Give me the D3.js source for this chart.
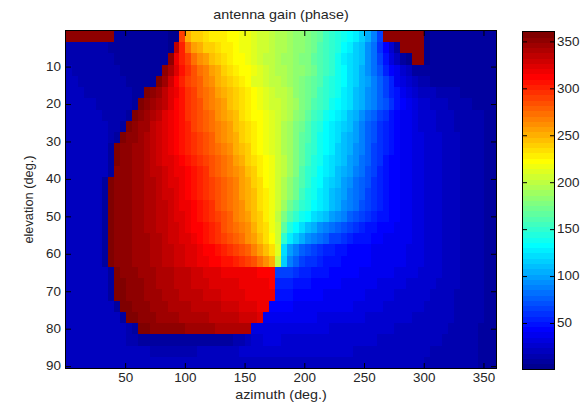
<!DOCTYPE html>
<html><head><meta charset="utf-8">
<script src="https://cdn.jsdelivr.net/npm/d3@7"></script>
<style>
body{margin:0;background:#fff}
text{font-family:"Liberation Sans",Arial,Helvetica,sans-serif;fill:#262626}
</style>
</head><body>
<svg id="chart" width="584" height="404"></svg>
<script>
// ---- data (cell centres, degrees) ----
const azimuthCenters = [3,8,13,18,23,28,33,38,43,48,53,58,63,68,73,78,83,88,93,98,103,108,113,118,123,128,133,138,143,148,153,158,163,168,173,178,183,188,193,198,203,208,213,218,223,228,233,238,243,248,253,258,263,268,273,278,283,288,293,298,303,308,313,318,323,328,333,338,343,348,353,358];
const elevationCenters = [2,5,8,11,14,17,20,23,26,29,32,35,38,41,44,47,50,53,56,59,62,65,68,71,74,77,80,83,86,89];

// phase (deg.), one array per elevation row
const el02 = [352,352,352,352,352,352,352,352,10,8, 8,8,8,8,7,7,7,6,6,290, 250,242,237,233,230,228,226,224,222,219, 215,211,208,204,200,197,194,190,186,182, 177,171,165,158,152,146,140,134,126,117, 106,90,65,350,350,350,350,350,350,350, 6,7,7,8,8,8,8,8,8,8,8,8];
const el05 = [16,14,14,14,14,14,13,12,11,10, 9,9,8,8,8,7,7,6,335,300, 272,258,248,242,237,233,229,226,223,219, 215,211,207,203,199,196,193,189,185,181, 176,170,163,156,149,142,135,127,118,108, 95,80,62,42,25,12,350,350,350,350, 6,7,7,8,8,8,8,8,8,8,8,8];
const el08 = [17,16,16,15,15,15,14,13,12,11, 10,9,9,8,8,7,7,350,320,300, 288,274,264,255,247,240,234,229,225,221, 216,211,206,202,198,195,191,188,184,180, 175,169,162,155,147,138,130,122,115,108, 95,82,68,50,32,18,10,6,350,350, 6,8,8,9,9,9,9,9,9,9,9,9];
const el11 = [18,17,17,16,16,16,15,14,13,12, 11,10,10,9,8,7,352,340,322,308, 296,284,274,265,256,248,241,235,230,225, 220,215,210,205,201,197,193,189,185,181, 176,170,163,156,148,140,132,124,116,106, 95,83,70,57,45,35,26,18,12,8, 7,8,8,9,9,9,9,9,9,9,9,9];
const el14 = [18,18,17,17,17,16,16,15,14,13, 12,11,10,9,8,355,345,330,314,302, 292,284,276,268,260,252,245,238,232,226, 220,214,209,205,202,199,195,190,186,180, 174,167,159,151,144,137,131,124,116,107, 98,88,77,64,52,40,31,24,19,16, 14,12,11,10,10,10,10,9,9,9,9,9];
const el17 = [18,18,18,17,17,17,16,16,15,14, 13,11,9,355,350,344,336,326,316,306, 297,289,281,274,267,259,252,245,238,232, 226,220,215,210,206,202,198,192,186,180, 173,165,157,149,142,136,129,121,113,104, 95,86,77,67,56,46,39,32,27,23, 20,18,16,15,14,13,12,11,11,10,10,10];
const el20 = [19,19,18,18,18,17,17,16,16,15, 13,9,355,352,347,340,332,322,313,304, 296,289,282,275,268,261,254,247,240,233, 227,221,216,211,207,203,199,193,187,180, 172,163,155,147,140,134,127,119,111,102, 94,86,78,69,60,50,44,38,33,29, 26,23,21,19,17,15,14,13,12,11,11,10];
const el23 = [19,19,19,18,18,18,17,17,16,14, 9,355,352,347,341,334,326,319,312,304, 297,290,283,277,271,264,257,250,243,236, 230,225,220,215,210,205,199,192,184,176, 167,158,149,141,134,127,119,111,102,93, 84,76,67,58,50,44,39,35,32,29, 27,25,23,21,19,17,16,15,14,13,12,11];
const el26 = [20,19,19,19,18,18,18,17,15,9, 355,352,348,344,337,330,324,318,313,306, 299,292,286,280,274,268,261,254,247,238, 231,226,221,216,210,204,197,189,180,170, 160,150,142,135,128,121,114,108,100,89, 79,70,61,53,46,42,38,35,32,29, 26,25,23,21,19,17,16,15,14,13,12,11];
const el29 = [20,20,19,19,19,18,18,16,9,355, 353,350,346,341,335,329,323,318,313,307, 300,294,288,282,276,270,263,256,249,241, 234,228,222,217,211,204,197,188,179,169, 159,149,141,134,127,120,113,106,98,88, 78,69,60,53,47,42,39,36,33,31, 29,27,25,23,21,19,17,16,14,13,12,11];
const el32 = [20,20,20,19,19,19,18,9,355,353, 351,348,344,339,333,327,322,318,314,309, 303,297,291,285,279,273,267,260,253,245, 237,230,224,218,212,205,197,187,177,166, 156,147,139,132,125,118,111,104,96,87, 77,68,59,52,46,42,39,36,33,31, 29,27,25,23,21,19,17,16,14,13,12,11];
const el35 = [20,20,20,20,19,19,18,9,355,353, 351,348,345,341,336,331,326,322,318,314, 308,302,296,290,284,278,272,265,258,250, 242,234,227,221,215,207,198,188,177,165, 154,145,137,129,122,115,108,101,93,84, 75,66,58,51,45,42,39,36,33,31, 29,27,25,23,21,19,17,16,14,13,12,11];
const el38 = [20,20,20,20,20,19,18,9,354,352, 350,347,344,341,337,332,328,324,320,316, 311,305,299,293,287,281,275,269,262,254, 246,238,230,223,216,208,198,187,175,163, 152,143,135,127,119,112,104,97,89,80, 72,64,56,50,44,41,39,36,33,31, 29,27,25,23,21,19,17,16,14,13,12,11];
const el41 = [21,21,20,20,20,19,10,356,354,352, 350,347,344,341,338,334,330,326,322,318, 313,307,301,295,289,283,277,271,265,257, 249,241,232,225,217,208,197,185,172,160, 149,140,132,124,116,108,100,93,85,77, 69,62,55,49,44,41,39,36,33,31, 29,27,25,23,21,19,17,16,14,13,12,11];
const el44 = [21,21,21,20,20,19,10,356,354,352, 350,347,345,342,339,335,331,327,323,319, 315,309,303,297,291,285,279,273,267,259, 251,243,234,226,218,208,196,183,170,157, 146,138,129,121,113,105,98,90,82,74, 66,59,54,48,44,42,39,36,33,31, 29,27,25,23,21,19,17,16,14,13,12,11];
const el47 = [21,21,21,20,20,19,10,356,354,352, 350,348,345,342,339,336,332,328,324,320, 316,311,305,299,293,287,281,275,268,261, 253,244,235,226,216,204,189,174,161,150, 142,135,127,119,111,103,96,88,80,72, 64,58,53,48,44,42,39,36,33,31, 29,27,25,23,21,19,17,16,14,13,12,11];
const el50 = [21,21,21,21,20,19,10,356,354,352, 350,348,346,343,340,337,333,329,325,321, 317,312,307,301,295,289,283,277,270,263, 255,246,237,227,215,200,180,163,150,140, 132,124,116,108,100,93,86,79,72,66, 60,55,51,47,44,42,39,36,33,31, 29,27,25,23,21,19,17,16,14,13,12,11];
const el53 = [21,21,21,21,20,19,10,356,354,352, 350,348,346,343,340,337,334,330,327,323, 319,315,310,305,299,293,287,281,275,268, 260,251,241,231,219,203,168,145,132,122, 113,104,96,89,82,75,69,63,58,54, 51,48,45,43,41,40,38,36,33,31, 29,27,25,23,21,19,17,16,14,13,12,11];
const el56 = [21,21,21,21,20,19,10,356,354,352, 350,348,346,344,341,338,335,331,328,325, 321,317,313,308,303,297,291,285,279,272, 264,255,245,234,222,205,150,128,115,104, 95,87,80,74,68,63,58,54,51,48, 46,44,42,40,39,38,37,35,33,31, 29,27,25,23,21,19,17,16,14,13,12,11];
const el59 = [21,21,21,21,20,19,10,356,354,352, 350,348,346,344,342,339,336,333,330,327, 324,321,318,314,310,305,300,295,289,283, 276,268,258,246,232,212,120,100,88,78, 70,64,59,55,52,49,47,45,43,42, 41,40,39,38,37,36,35,34,32,30, 28,27,25,23,21,19,17,16,14,13,12,11];
const el62 = [21,21,21,21,20,19,10,356,354,352, 350,348,346,344,342,340,337,334,331,328, 326,323,320,318,315,312,308,304,300,295, 290,283,275,264,248,200,115,90,78,68, 62,58,54,51,48,46,45,44,43,42, 41,40,39,38,37,36,35,34,32,30, 28,27,25,23,21,19,17,16,14,13,12,11];
const el65 = [21,21,21,21,20,19,18,10,356,354, 352,350,348,346,344,342,340,338,336,334, 332,330,328,326,324,322,320,319,318,317, 316,316,315,315,315,65,68,64,60,56, 53,50,48,46,45,44,43,42,41,40, 39,38,37,36,35,34,33,32,30,29, 27,26,24,22,20,18,17,15,14,13,12,11];
const el68 = [21,21,21,21,20,19,18,10,356,355, 353,351,349,347,345,343,341,339,337,335, 333,331,329,327,325,324,323,322,321,320, 319,318,317,316,315,55,55,53,51,49, 47,45,44,43,42,41,40,39,38,37, 36,35,34,33,32,31,30,29,28,27, 25,24,22,21,19,18,16,15,14,13,12,11];
const el71 = [21,21,21,21,20,19,18,10,356,355, 354,352,350,348,346,344,342,340,338,337, 335,334,332,331,329,328,326,325,323,322, 320,319,318,317,316,48,47,46,45,44, 43,42,41,40,40,39,38,37,36,35, 34,33,32,31,30,29,28,27,26,25, 24,23,21,20,18,17,16,15,14,13,12,11];
const el74 = [21,21,21,21,20,20,19,18,10,356, 355,354,352,350,348,346,344,343,341,340, 338,337,336,334,333,332,330,329,327,326, 324,322,320,318,42,42,41,41,40,40, 39,39,38,38,37,37,36,35,34,33, 32,31,30,29,28,28,27,26,25,24, 23,22,21,20,18,17,16,15,14,13,12,11];
const el77 = [21,21,21,21,21,20,20,19,18,10, 356,355,354,352,350,348,346,345,344,342, 341,340,339,338,337,336,335,334,332,331, 329,327,325,38,37,37,36,36,36,35, 35,35,34,34,33,33,32,32,31,30, 29,29,28,27,26,26,25,24,23,23, 22,21,20,19,18,17,16,15,14,13,12,11];
const el80 = [21,21,21,21,21,21,20,20,19,18, 16,10,356,355,354,353,352,351,350,349, 348,347,346,345,344,343,342,341,340,339, 338,33,33,33,32,32,32,32,31,31, 31,30,30,30,29,29,28,28,27,27, 26,26,25,25,24,23,23,22,21,21, 20,19,18,18,17,16,15,14,13,12,12,11];
const el83 = [21,21,21,21,21,21,21,20,20,19, 17,14,12,10,10,10,10,10,10,10, 10,10,10,10,10,10,11,12,13,15, 20,26,29,30,30,30,29,29,29,28, 28,28,27,27,27,26,26,26,25,25, 24,24,23,23,22,22,21,21,20,20, 19,18,18,17,16,15,14,14,13,12,12,11];
const el86 = [21,21,21,21,21,21,21,21,21,20, 20,19,18,18,17,17,17,17,17,17, 17,17,18,18,19,20,21,22,23,24, 25,26,26,27,27,27,27,27,26,26, 26,26,25,25,25,24,24,24,23,23, 23,22,22,21,21,20,20,19,19,18, 18,17,17,16,15,15,14,13,13,12,12,11];
const el89 = [20,20,20,20,20,20,20,20,20,20, 20,20,20,20,20,20,20,20,20,20, 20,21,21,21,21,22,22,22,22,23, 23,23,23,23,23,23,23,23,23,23, 23,23,22,22,22,22,22,21,21,21, 21,20,20,20,19,19,19,18,18,18, 17,17,16,16,15,15,14,14,13,12,12,11];

const phaseRows = [el02,el05,el08,el11,el14,el17,el20,el23,el26,el29,el32,el35,el38,el41,el44,el47,el50,el53,el56,el59,el62,el65,el68,el71,el74,el77,el80,el83,el86,el89];

const xTicks = [50,100,150,200,250,300,350];
const yTicks = [10,20,30,40,50,60,70,80,90];
const colorTicks = [50,100,150,200,250,300,350];
const colorLimits = [1,360];
const titleText = "antenna gain (phase)";
const xLabelText = "azimuth (deg.)";
const yLabelText = "elevation (deg.)";

// ---- layout ----
const svg = d3.select("#chart");
const P = {left:66, right:496, top:31, bottom:368};
const CB = {left:523, right:554, top:32, bottom:369};
const hs = 1.12; // horizontal glyph stretch of the reference

const x = d3.scaleLinear().domain([0.5,360.5]).range([P.left,P.right]);
const y = d3.scaleLinear().domain([0.5,90.5]).range([P.top,P.bottom]);

// MATLAB jet(64)
function jet(m){
  const n=Math.ceil(m/4), u=[];
  for(let k=1;k<=n;k++)u.push(k/n);
  for(let k=0;k<n-1;k++)u.push(1);
  for(let k=n;k>=1;k--)u.push(k/n);
  const g0=Math.ceil(n/2)-(m%4===1?1:0);
  const J=d3.range(m).map(()=>[0,0,0]);
  u.forEach((val,j)=>{
    const g=g0+j+1, r=g+n, b=g-n;
    if(r>=1&&r<=m)J[r-1][0]=val;
    if(g>=1&&g<=m)J[g-1][1]=val;
    if(b>=1&&b<=m)J[b-1][2]=val;
  });
  return J.map(c=>d3.rgb(c[0]*255,c[1]*255,c[2]*255).formatHex());
}
const color = d3.scaleQuantize().domain(colorLimits).range(jet(64));

// ---- heatmap cells ----
const azHalf=(azimuthCenters[1]-azimuthCenters[0])/2;
const elHalf=(elevationCenters[1]-elevationCenters[0])/2;
const cells=[];
phaseRows.forEach((row,j)=>row.forEach((v,k)=>{
  if(k<azimuthCenters.length) cells.push({az:azimuthCenters[k],el:elevationCenters[j],v});
}));
svg.append("g").attr("shape-rendering","crispEdges")
  .selectAll("rect").data(cells).join("rect")
  .attr("x",d=>x(d.az-azHalf)).attr("y",d=>y(d.el-elHalf))
  .attr("width",d=>x(d.az+azHalf)-x(d.az-azHalf))
  .attr("height",d=>y(d.el+elHalf)-y(d.el-elHalf))
  .attr("fill",d=>color(d.v));

function styleAxis(g,labels,xShift){
  g.attr("font-size",null).attr("font-family",null);
  g.select(".domain").remove();
  g.selectAll(".tick line").attr("stroke","#000").attr("stroke-width",1);
  if(!labels){g.selectAll(".tick text").remove();return;}
  g.selectAll(".tick text").style("font-size","12px").attr("fill","#262626")
   .attr("transform",`scale(${hs},1)`);
  if(xShift!==undefined) g.selectAll(".tick text").attr("x",xShift/hs);
}

svg.append("g").attr("transform",`translate(0,${P.bottom})`)
  .call(d3.axisBottom(x).tickValues(xTicks).tickSizeInner(-5).tickSizeOuter(0).tickPadding(5.5))
  .call(g=>styleAxis(g,true));
svg.append("g").attr("transform",`translate(0,${P.top})`)
  .call(d3.axisTop(x).tickValues(xTicks).tickSizeInner(-5).tickSizeOuter(0))
  .call(g=>styleAxis(g,false));
svg.append("g").attr("transform",`translate(${P.left},0)`)
  .call(d3.axisLeft(y).tickValues(yTicks).tickSizeInner(-5).tickSizeOuter(0).tickPadding(5))
  .call(g=>styleAxis(g,true,-5));
svg.append("g").attr("transform",`translate(${P.right},0)`)
  .call(d3.axisRight(y).tickValues(yTicks).tickSizeInner(-5).tickSizeOuter(0))
  .call(g=>styleAxis(g,false));

svg.append("rect").attr("x",P.left-0.5).attr("y",P.top-0.5)
  .attr("width",P.right-P.left+1).attr("height",P.bottom-P.top+1)
  .attr("fill","none").attr("stroke","#000");

// ---- colorbar ----
const cy = d3.scaleLinear().domain(colorLimits).range([CB.bottom,CB.top]);
const cbColors = color.range();
svg.append("rect").attr("x",CB.left).attr("y",CB.top)
  .attr("width",CB.right-CB.left).attr("height",CB.bottom-CB.top)
  .attr("fill",cbColors[cbColors.length-1]);
svg.append("g").attr("shape-rendering","crispEdges")
  .selectAll("rect").data(cbColors).join("rect")
  .attr("x",CB.left).attr("width",CB.right-CB.left)
  .attr("y",c=>cy(color.invertExtent(c)[1]))
  .attr("height",c=>cy(color.invertExtent(c)[0])-cy(color.invertExtent(c)[1])+0.3)
  .attr("fill",c=>c);
svg.append("g").attr("transform",`translate(${CB.right},0)`)
  .call(d3.axisRight(cy).tickValues(colorTicks).tickSizeInner(-4).tickSizeOuter(0).tickPadding(3))
  .call(g=>styleAxis(g,true,3));
svg.append("g").attr("transform",`translate(${CB.left},0)`)
  .call(d3.axisLeft(cy).tickValues(colorTicks).tickSizeInner(-4).tickSizeOuter(0))
  .call(g=>styleAxis(g,false));
svg.append("rect").attr("x",CB.left-0.5).attr("y",CB.top-0.5)
  .attr("width",CB.right-CB.left+1).attr("height",CB.bottom-CB.top+1)
  .attr("fill","none").attr("stroke","#000");

// ---- titles ----
const cx=(P.left+P.right)/2;
svg.append("text").attr("transform",`translate(${cx},19) scale(${hs},1)`)
  .attr("text-anchor","middle").style("font-size","12.8px").text(titleText);
svg.append("text").attr("transform",`translate(${cx},399) scale(${hs},1)`)
  .attr("text-anchor","middle").style("font-size","12.8px").text(xLabelText);
svg.append("text").attr("transform",`translate(33,${(P.top+P.bottom)/2}) rotate(-90)`)
  .attr("text-anchor","middle").style("font-size","12.8px").text(yLabelText);
</script>
</body></html>
